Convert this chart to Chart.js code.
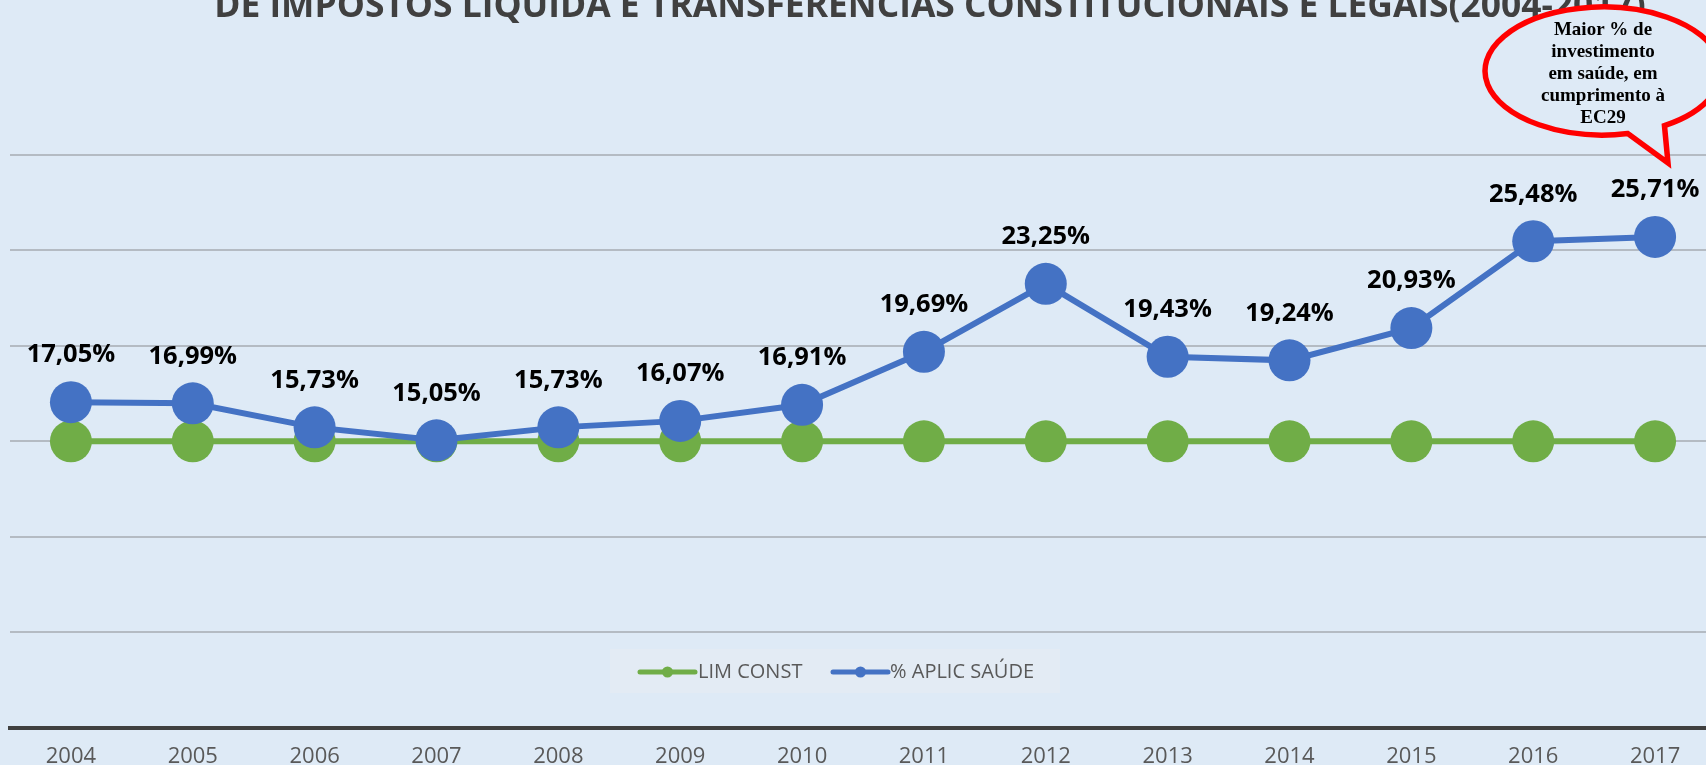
<!DOCTYPE html>
<html><head><meta charset="utf-8">
<script src="https://cdn.jsdelivr.net/npm/chart.js@4.4.1/dist/chart.umd.min.js"></script>
<style>
html,body{margin:0;padding:0;background:#DEEAF6;overflow:hidden;width:1706px;height:765px;position:relative;}
#c{position:absolute;left:0;top:-8px;width:1722px;height:794px;}
</style></head><body>
<canvas id="c" width="1722" height="794"></canvas>
<script>
const categories = ['2004','2005','2006','2007','2008','2009','2010','2011','2012','2013','2014','2015','2016','2017'];
const limConst = [15,15,15,15,15,15,15,15,15,15,15,15,15,15];
const aplicSaude = [17.05,16.99,15.73,15.05,15.73,16.07,16.91,19.69,23.25,19.43,19.24,20.93,25.48,25.71];
const yTicks = [0,5,10,15,20,25,30];
const seriesNames = ['LIM CONST','% APLIC SAÚDE'];
const titleText = 'DE IMPOSTOS LÍQUIDA E TRANSFERÊNCIAS CONSTITUCIONAIS E LEGAIS(2004-2017)';
const calloutLines = ['Maior % de','investimento','em saúde, em','cumprimento à','EC29'];

const BG = '#DEEAF6';
const GREEN = '#70AD47';
const BLUE = '#4472C4';
const OFF = 8; // canvas offset above page

const fmt = v => v.toFixed(2).replace('.', ',') + '%';

const bgPlugin = {
  id: 'bg',
  beforeDraw(chart) {
    const c = chart.ctx;
    c.save(); c.fillStyle = BG; c.fillRect(0, 0, chart.width, chart.height); c.restore();
  }
};

const titlePlugin = {
  id: 'customTitle',
  afterDraw(chart) {
    const c = chart.ctx;
    c.save();
    let size = 28;
    c.font = `bold ${size}px "Open Sans"`;
    const w = c.measureText(titleText).width;
    size = size * 1432 / w;
    c.font = `bold ${size}px "Open Sans"`;
    c.fillStyle = '#404040';
    c.textAlign = 'center';
    c.textBaseline = 'alphabetic';
    c.fillText(titleText, 930, 17 + OFF);
    c.restore();
  }
};

const labelsPlugin = {
  id: 'dataLabels',
  afterDatasetsDraw(chart) {
    const c = chart.ctx;
    const meta = chart.getDatasetMeta(1);
    c.save();
    c.font = 'bold 25.5px "Open Sans"';
    c.fillStyle = '#000000';
    c.textAlign = 'center';
    c.textBaseline = 'middle';
    meta.data.forEach((pt, i) => {
      c.fillText(fmt(chart.data.datasets[1].data[i]), pt.x, pt.y - 47);
    });
    c.restore();
  }
};

const legendPlugin = {
  id: 'customLegend',
  afterDraw(chart) {
    const c = chart.ctx;
    c.save();
    c.fillStyle = '#E3EBF4';
    c.fillRect(610, 649 + OFF, 450, 44);
    const items = [
      {x0: 640, x1: 695, tx: 698, color: chart.data.datasets[0].borderColor, label: chart.data.datasets[0].label},
      {x0: 833, x1: 888, tx: 890, color: chart.data.datasets[1].borderColor, label: chart.data.datasets[1].label}
    ];
    const y = 672 + OFF;
    c.font = '20px "Open Sans"';
    c.textBaseline = 'middle';
    c.textAlign = 'left';
    items.forEach(it => {
      c.strokeStyle = it.color; c.lineWidth = 5; c.lineCap = 'round';
      c.beginPath(); c.moveTo(it.x0, y); c.lineTo(it.x1, y); c.stroke();
      c.fillStyle = it.color;
      c.beginPath(); c.arc((it.x0 + it.x1) / 2, y, 5.5, 0, Math.PI * 2); c.fill();
      c.fillStyle = '#595959';
      c.fillText(it.label, it.tx, y);
    });
    c.restore();
  }
};

const calloutPlugin = {
  id: 'callout',
  afterDraw(chart) {
    const c = chart.ctx;
    const cx = 1603, cy = 71 + OFF, rx = 118, ry = 64;
    const pR = {x: 1666, y: 127 + OFF}, pL = {x: 1628, y: 134 + OFF}, tip = {x: 1668, y: 163 + OFF};
    const t1 = Math.atan2((pR.y - cy) / ry, (pR.x - cx) / rx);
    const t2 = Math.atan2((pL.y - cy) / ry, (pL.x - cx) / rx);
    c.save();
    c.beginPath();
    c.ellipse(cx, cy, rx, ry, 0, t2, t1 + Math.PI * 2, false);
    c.lineTo(tip.x, tip.y);
    c.closePath();
    c.fillStyle = BG;
    c.fill();
    c.strokeStyle = '#FF0000';
    c.lineWidth = 5.5;
    c.lineJoin = 'miter';
    c.stroke();
    c.fillStyle = '#000000';
    c.font = 'bold 19px "Liberation Serif"';
    c.textAlign = 'center';
    c.textBaseline = 'middle';
    const ys = [30, 52, 74.5, 96.5, 118.5];
    calloutLines.forEach((t, i) => c.fillText(t, cx, ys[i] + OFF));
    c.restore();
  }
};

new Chart(document.getElementById('c'), {
  type: 'line',
  data: {
    labels: categories,
    datasets: [
      {label: seriesNames[0], data: limConst, borderColor: GREEN, backgroundColor: GREEN,
       borderWidth: 6, pointRadius: 21, pointHoverRadius: 21, pointBackgroundColor: GREEN,
       pointBorderWidth: 0, tension: 0, order: 1},
      {label: seriesNames[1], data: aplicSaude, borderColor: BLUE, backgroundColor: BLUE,
       borderWidth: 6, pointRadius: 21, pointHoverRadius: 21, pointBackgroundColor: BLUE,
       pointBorderWidth: 0, tension: 0, order: 0}
    ]
  },
  options: {
    responsive: false, animation: false,
    layout: {autoPadding: false, padding: {left: 10, right: 6, top: 155 + OFF, bottom: 0}},
    plugins: {legend: {display: false}, title: {display: false}, tooltip: {enabled: false}},
    events: [],
    scales: {
      x: {
        offset: true,
        grid: {display: false, drawTicks: false, tickLength: 0},
        border: {display: true, color: '#404040', width: 4},
        ticks: {color: '#595959', font: {family: '"Open Sans"', size: 22},
                padding: 16, maxRotation: 0, autoSkip: false}
      },
      y: {
        min: 0, max: 30,
        afterBuildTicks: s => { s.ticks = yTicks.map(v => ({value: v})); },
        ticks: {display: false},
        grid: {color: ctx => (ctx.tick && ctx.tick.value === 0) ? 'rgba(0,0,0,0)' : '#B4BBC3', lineWidth: 2, drawTicks: false, tickLength: 0},
        border: {display: false}
      }
    }
  },
  plugins: [bgPlugin, labelsPlugin, titlePlugin, legendPlugin, calloutPlugin]
});
</script>
</body></html>
